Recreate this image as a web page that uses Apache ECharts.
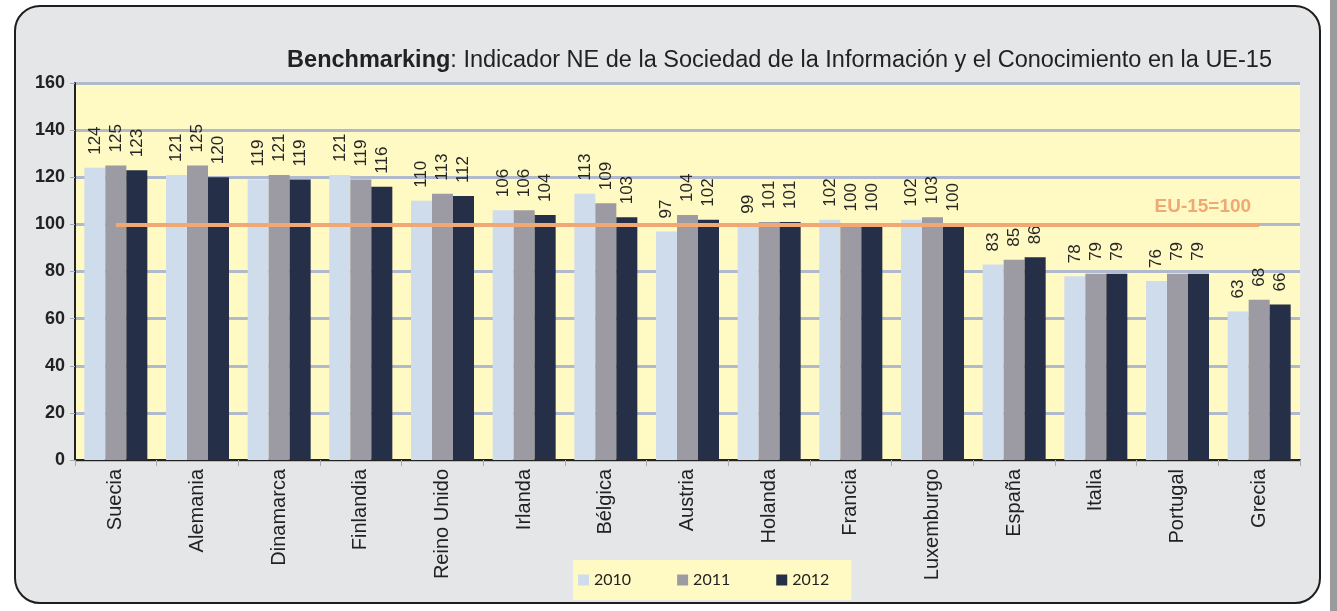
<!DOCTYPE html>
<html>
<head>
<meta charset="utf-8">
<script src="https://cdn.jsdelivr.net/npm/echarts@6/dist/echarts.min.js"></script>
<style>
  html, body { margin: 0; padding: 0; background: #fff; }
  #chart { width: 1337px; height: 611px; }
</style>
</head>
<body>
<div id="chart"></div>
<script>
const countries = ['Suecia', 'Alemania', 'Dinamarca', 'Finlandia', 'Reino Unido', 'Irlanda', 'Bélgica',
  'Austria', 'Holanda', 'Francia', 'Luxemburgo', 'España', 'Italia', 'Portugal', 'Grecia']
const years = ['2010', '2011', '2012']
const values2010 = [124, 121, 119, 121, 110, 106, 113, 97, 99, 102, 102, 83, 78, 76, 63]
const values2011 = [125, 125, 121, 119, 113, 106, 109, 104, 101, 100, 103, 85, 79, 79, 68]
const values2012 = [123, 120, 119, 116, 112, 104, 103, 102, 101, 100, 100, 86, 79, 79, 66]
const yTicks = [0, 20, 40, 60, 80, 100, 120, 140, 160]
const euReference = 100

const colors = ['#cfdcec', '#9c9aa2', '#252f47']
const font = '"Liberation Sans", Arial, sans-serif'

const chart = echarts.init(document.getElementById('chart'), null, { renderer: 'canvas' })

function makeSeries(name, data, color, extra) {
  return Object.assign({
    name: name,
    type: 'bar',
    data: data,
    barWidth: 21,
    barGap: '0%',
    itemStyle: { color: color },
    label: {
      show: true,
      position: 'top',
      rotate: 90,
      align: 'left',
      verticalAlign: 'middle',
      distance: 13,
      fontFamily: font,
      fontSize: 17,
      color: '#262626'
    }
  }, extra || {})
}

chart.setOption({
  backgroundColor: '#ffffff',
  animation: false,
  graphic: [
    {
      type: 'rect',
      z: -10,
      shape: { x: 1330, y: 0, width: 7, height: 611 },
      style: { fill: '#9b9b9b' }
    },
    {
      type: 'rect',
      z: -10,
      shape: { x: 15, y: 6, width: 1305, height: 597, r: 25 },
      style: { fill: '#e5e6e8', stroke: '#1e1e1e', lineWidth: 2 }
    }
  ],
  title: {
    text: '{b|Benchmarking}: Indicador NE de la Sociedad de la Información y el Conocimiento en la UE-15',
    right: 60,
    top: 44,
    textStyle: {
      fontFamily: font,
      fontSize: 23.5,
      fontWeight: 'normal',
      color: '#222',
      rich: {
        b: { fontFamily: font, fontSize: 23.5, fontWeight: 'bold', color: '#222' }
      }
    }
  },
  legend: {
    data: years,
    left: 573,
    top: 560,
    backgroundColor: '#fff9c3',
    padding: [12, 22, 12, 5],
    itemWidth: 11,
    itemHeight: 11,
    itemGap: 46,
    icon: 'rect',
    textStyle: { fontFamily: 'Lato, "Open Sans", sans-serif', fontSize: 16, color: '#222' }
  },
  grid: {
    left: 75,
    right: 37,
    top: 83,
    bottom: 151,
    show: true,
    backgroundColor: '#fff9c3',
    borderWidth: 0
  },
  xAxis: {
    type: 'category',
    data: countries,
    axisLine: { lineStyle: { color: '#222', width: 2 } },
    axisTick: { show: true, interval: 0, length: 6, lineStyle: { color: '#aaa' } },
    axisLabel: {
      interval: 0,
      rotate: 90,
      margin: 9,
      fontFamily: font,
      fontSize: 20,
      color: '#222'
    }
  },
  yAxis: {
    type: 'value',
    min: yTicks[0],
    max: yTicks[yTicks.length - 1],
    interval: 20,
    axisLine: { show: true, lineStyle: { color: '#222', width: 2 } },
    axisTick: { show: true, length: 5, lineStyle: { color: '#aaa' } },
    axisLabel: { fontFamily: font, fontSize: 18, fontWeight: 'bold', color: '#222', margin: 10 },
    splitLine: { lineStyle: { color: '#b1b9cd', width: 3 } }
  },
  series: [
    makeSeries(years[0], values2010, colors[0]),
    makeSeries(years[1], values2011, colors[1], {
      markLine: {
        silent: true,
        symbol: 'none',
        lineStyle: { color: '#f0a874', width: 4, type: 'solid' },
        label: {
          show: true,
          position: 'insideEndTop',
          formatter: 'EU-15=100',
          fontFamily: font,
          fontSize: 19,
          fontWeight: 'bold',
          color: '#f0a874',
          distance: 8
        },
        data: [[
          { coord: [countries[0], euReference] },
          { coord: [countries[countries.length - 1], euReference] }
        ]]
      }
    }),
    makeSeries(years[2], values2012, colors[2])
  ]
})
</script>
</body>
</html>
